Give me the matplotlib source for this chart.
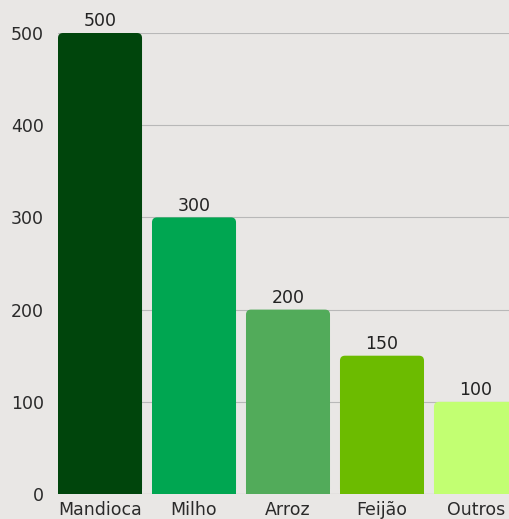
import matplotlib.pyplot as plt
from matplotlib.patches import FancyBboxPatch, Rectangle

culturas = ['Mandioca', 'Milho', 'Arroz', 'Feijão', 'Outros']
valores = [500, 300, 200, 150, 100]
cores = ['#00450c', '#00a651', '#52ab5a', '#6cbb00', '#c2ff72']
yticks = [0, 100, 200, 300, 400, 500]

plt.rcParams['font.family'] = ['DejaVu Sans']

fundo = '#e9e7e5'
fig = plt.figure(figsize=(5.10, 5.19), dpi=100, facecolor=fundo)
ax = fig.add_axes([58 / 510, 25 / 519, 460 / 510, 461 / 519], facecolor=fundo)

largura = 0.894
barras = ax.bar(range(len(culturas)), valores, width=largura, color='none')

# rounded top corners: rounded box plus a square block over the bottom
r_x = 5 / 94
r_y = 5 / 0.922
for b, cor in zip(barras, cores):
    x, w, h = b.get_x(), b.get_width(), b.get_height()
    ax.add_patch(FancyBboxPatch((x, 0), w, h,
                                boxstyle=f'round,pad=0,rounding_size={r_x}',
                                mutation_aspect=r_y / r_x,
                                facecolor=cor, edgecolor='none', zorder=3))
    ax.add_patch(Rectangle((x, 0), w, h - 2 * r_y, facecolor=cor,
                           edgecolor='none', zorder=3))
    ax.text(x + w / 2, h + 3, str(int(h)), ha='center', va='bottom',
            fontsize=12.5, color='#222222', clip_on=False, zorder=4)

ax.set_xlim(-largura / 2, len(culturas) - 1 + largura / 2)
ax.set_ylim(0, 500)
ax.set_yticks(yticks)
ax.set_xticks(range(len(culturas)))
ax.set_xticklabels(culturas)
ax.tick_params(axis='both', length=0, labelsize=12.5, colors='#2a2a2a')
ax.tick_params(axis='y', pad=10)
ax.tick_params(axis='x', pad=5)
ax.grid(axis='y', color='#b8b8b8', linewidth=0.8, zorder=0)
for s in ax.spines.values():
    s.set_visible(False)
ax.axhline(0, color='#b8b8b8', linewidth=0.8, zorder=1)

fig.savefig('out.png', dpi=100, facecolor=fundo)
